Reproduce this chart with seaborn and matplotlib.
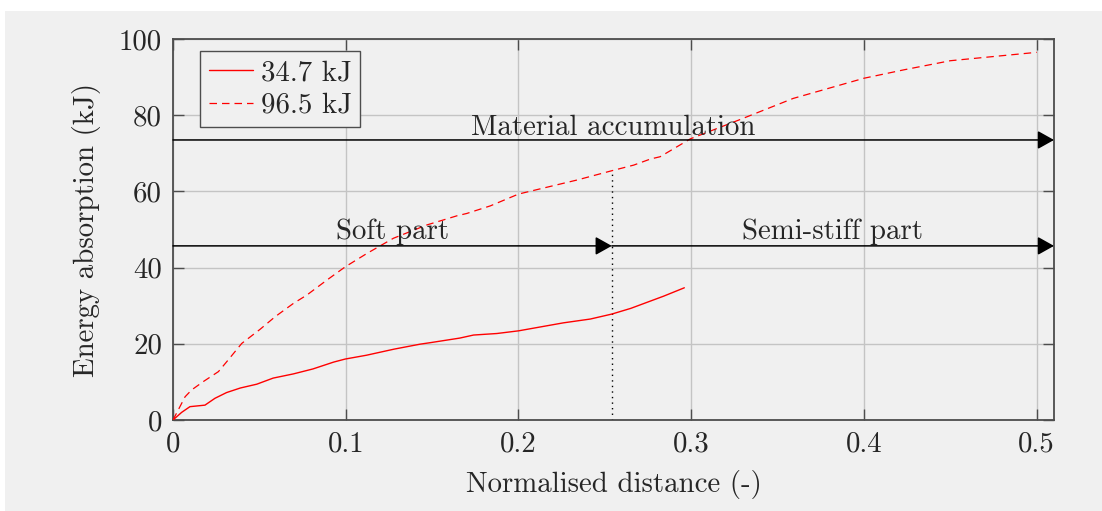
import numpy as np
import pandas as pd
import matplotlib
matplotlib.use("Agg")
import matplotlib.pyplot as plt
from matplotlib.patches import Rectangle
import seaborn as sns

# Energy absorption curves against normalised crushing distance
dist_low = [0, 0.005, 0.0098, 0.0185, 0.0243, 0.031, 0.039, 0.0485, 0.058, 0.0697,
            0.081, 0.093, 0.0997, 0.112, 0.128, 0.143, 0.149, 0.166, 0.174, 0.1875,
            0.2, 0.226, 0.2416, 0.254, 0.265, 0.284, 0.296]
energy_low = [0, 2.0, 3.5, 3.9, 5.7, 7.2, 8.4, 9.4, 11.0, 12.1,
              13.4, 15.2, 16.0, 17.0, 18.6, 19.9, 20.3, 21.5, 22.3, 22.7,
              23.4, 25.5, 26.5, 27.8, 29.3, 32.5, 34.7]

dist_high = [0, 0.007, 0.0108, 0.0176, 0.0263, 0.0311, 0.0398, 0.0504, 0.0591, 0.0697,
             0.0775, 0.089, 0.0997, 0.1122, 0.1276, 0.137, 0.147, 0.155, 0.1644, 0.170,
             0.1837, 0.2, 0.2165, 0.234, 0.2538, 0.2667, 0.2764, 0.282, 0.2995, 0.3285,
             0.359, 0.40, 0.423, 0.45, 0.5]
energy_high = [0, 6.1, 7.9, 10.1, 12.7, 15.3, 20.1, 23.8, 27.1, 30.6,
               32.8, 36.7, 40.2, 43.7, 47.7, 49.4, 51.2, 52.3, 53.6, 54.2,
               56.2, 59.3, 61.1, 63.0, 65.4, 66.9, 68.5, 69.1, 73.8, 78.9,
               84.4, 89.7, 91.9, 94.3, 96.5]

series_labels = ["34.7 kJ", "96.5 kJ"]

x_ticks = [0, 0.1, 0.2, 0.3, 0.4, 0.5]
x_tick_labels = ["0", "0.1", "0.2", "0.3", "0.4", "0.5"]
y_ticks = [0, 20, 40, 60, 80, 100]
y_tick_labels = ["0", "20", "40", "60", "80", "100"]

# Region boundaries and annotation levels
split_dist = 0.254
split_energy = 65.4
accum_level = 73.5
part_level = 45.7
x_max = 0.51

sns.set_theme(style="ticks")
plt.rcParams["font.family"] = ["cmr10"]
plt.rcParams["axes.formatter.use_mathtext"] = True
plt.rcParams["mathtext.fontset"] = "cm"

BG = "#f0f0f0"
EDGE = "#4d4d4d"
FS = 20.8

fig = plt.figure(figsize=(11.02, 5.11), dpi=100, facecolor="white")
fig.patches.append(Rectangle((5 / 1102, 0), 1, 500 / 511, transform=fig.transFigure,
                             facecolor=BG, edgecolor="none", zorder=-10))
ax = fig.add_axes([173 / 1102, 91 / 511, 881 / 1102, 381 / 511])
ax.set_facecolor(BG)

df_low = pd.DataFrame({"dist": dist_low, "energy": energy_low})
df_high = pd.DataFrame({"dist": dist_high, "energy": energy_high})

sns.lineplot(data=df_low, x="dist", y="energy", ax=ax, color="#ff0000", lw=1.0,
             estimator=None, sort=False, label=series_labels[0], zorder=3)
sns.lineplot(data=df_high, x="dist", y="energy", ax=ax, color="#ff0000", lw=0.9,
             estimator=None, sort=False, label=series_labels[1], zorder=3,
             linestyle=(0, (6, 4)))

# Region arrows
arrow_kw = dict(arrowstyle="-|>,head_length=0.5,head_width=0.28", color="black",
                lw=1.1, shrinkA=0, shrinkB=0, mutation_scale=20)
ax.annotate("", xy=(x_max, accum_level), xytext=(0, accum_level),
            arrowprops=arrow_kw, annotation_clip=False, zorder=4)
ax.annotate("", xy=(split_dist, part_level), xytext=(0, part_level),
            arrowprops=arrow_kw, annotation_clip=False, zorder=4)
ax.annotate("", xy=(x_max, part_level), xytext=(split_dist, part_level),
            arrowprops=arrow_kw, annotation_clip=False, zorder=4)

ax.annotate("Material accumulation", xy=(x_max / 2, accum_level), xytext=(0, 3.6),
            textcoords="offset points", ha="center", va="baseline", fontsize=FS)
ax.annotate("Soft part", xy=(split_dist / 2, part_level), xytext=(0, 5),
            textcoords="offset points", ha="center", va="baseline", fontsize=FS)
ax.annotate("Semi-stiff part", xy=((split_dist + x_max) / 2, part_level), xytext=(0, 5),
            textcoords="offset points", ha="center", va="baseline", fontsize=FS)

ax.plot([split_dist, split_dist], [0, split_energy], color="black", lw=1.0,
        linestyle=(0, (1, 3)), zorder=2)

ax.set_xlim(0, x_max)
ax.set_ylim(0, 100)
ax.set_xticks(x_ticks)
ax.set_xticklabels(x_tick_labels)
ax.set_yticks(y_ticks)
ax.set_yticklabels(y_tick_labels)
ax.grid(True, color="#c4c4c4", lw=1.0)
ax.set_axisbelow(True)
ax.tick_params(direction="in", length=8, width=1.0, color=EDGE, labelsize=FS,
               top=True, right=True, pad=8)
ax.tick_params(axis="y", pad=8)
for s in ax.spines.values():
    s.set_color(EDGE)
    s.set_linewidth(1.3)
    s.set_visible(True)

ax.set_xlabel("Normalised distance (-)", fontsize=FS, labelpad=9)
ax.set_ylabel("Energy absorption (kJ)", fontsize=FS, labelpad=13)

leg = ax.legend(loc="upper left", bbox_to_anchor=(27 / 881, 1 - 12 / 381),
                borderaxespad=0, fontsize=FS, frameon=True, fancybox=False,
                framealpha=1, facecolor=BG, edgecolor=EDGE, handlelength=1.55,
                handletextpad=0.25, borderpad=0.3, labelspacing=0.22)
leg.get_frame().set_linewidth(1.0)

fig.savefig("out.png", dpi=100, facecolor="white")
